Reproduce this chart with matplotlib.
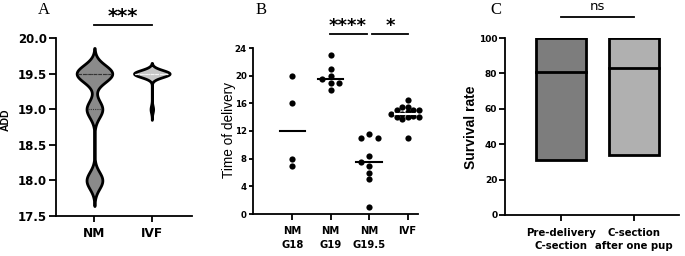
import numpy as np
import matplotlib
matplotlib.use('Agg')
import matplotlib.pyplot as plt

plt.rcParams['font.family'] = ['DejaVu Sans']

# A: ADD violins
add_groups = ['NM', 'IVF']
add_nm = [19.5] * 9 + [19.0] * 4 + [18.0] * 4
add_ivf = [19.5] * 14 + [19.0]
add_bw = [0.12, 0.05]
add_fill = ['#8a8a8a', '#c6c6c6']
add_line = ['#333333', '#f2f2f2']

# B: time of delivery
tod_groups = ['NM\nG18', 'NM\nG19', 'NM\nG19.5', 'IVF']
tod_g18 = [20, 16, 8, 7]
tod_g19 = [23, 21, 20, 19.5, 19, 19, 18]
tod_g195 = [11.5, 11, 11, 8.4, 7.5, 7, 6, 5, 1]
tod_ivf = [16.5, 15.5, 15.5, 15, 15, 15, 14.8, 14.5, 14.5, 14.2, 14, 14, 14,
           13.8, 11]

# C: survival rate (min / median / max)
surv_groups = ['Pre-delivery\nC-section', 'C-section\nafter one pup']
surv_min = [31, 34]
surv_med = [81, 83]
surv_max = [100, 100]
surv_fill = ['#7d7d7d', '#b0b0b0']

W, H = 685, 256
fig = plt.figure(figsize=(W / 100, H / 100), dpi=100)


def box(l, t, r, b):
    return [l / W, 1 - b / H, (r - l) / W, (b - t) / H]


def style(ax, ysize, xsize, ylen=4, xpad=4):
    for s in ['top', 'right']:
        ax.spines[s].set_visible(False)
    for s in ['left', 'bottom']:
        ax.spines[s].set_linewidth(1.3)
    ax.tick_params(direction='out', width=1.3)
    ax.tick_params(axis='y', length=ylen, labelsize=ysize, pad=1.5)
    ax.tick_params(axis='x', length=4, labelsize=xsize, pad=xpad)
    for lb in ax.get_yticklabels() + ax.get_xticklabels():
        lb.set_fontweight('bold')


def swarm(vals, ppx, ppy, d=6.5, step=8.5):
    order = np.argsort(vals)[::-1]
    placed = []
    out = np.zeros(len(vals))
    for i in order:
        y = vals[i] * ppy
        for k in [0, -1, 1, -2, 2, -3, 3]:
            x = k * step
            if all((x - px) ** 2 + (y - py) ** 2 >= d * d for px, py in placed):
                break
        placed.append((x, y))
        out[i] = x / ppx
    return out


# ---- panel A
ax = fig.add_axes(box(56, 38, 192, 216))
half = 0.31
for i, (data, bw) in enumerate(zip([add_nm, add_ivf], add_bw)):
    data = np.array(data)
    g = np.linspace(data.min() - 3 * bw, data.max() + 3 * bw, 400)
    dens = np.exp(-0.5 * ((g[:, None] - data[None, :]) / bw) ** 2).sum(1)
    w = dens / dens.max() * half
    ax.fill_betweenx(g, i - w, i + w, facecolor=add_fill[i], edgecolor='black', lw=2)
    q1, med, q3 = np.percentile(data, [25, 50, 75])
    for q, ls in [(med, (0, (3, 1.5))), (q1, (0, (1, 1))), (q3, (0, (1, 1)))]:
        wq = np.interp(q, g, w) - 0.02
        ax.plot([i - wq, i + wq], [q, q], color=add_line[i], lw=0.8, ls=ls)
ax.set_xlim(-0.67, 1.7)
ax.set_ylim(17.5, 20.0)
ax.set_yticks(np.arange(17.5, 20.01, 0.5))
ax.set_yticklabels(['%.1f' % v for v in np.arange(17.5, 20.01, 0.5)])
ax.set_xticks(range(len(add_groups)))
ax.set_xticklabels(add_groups)
style(ax, 8.5, 8.7, ylen=5, xpad=4)
ax.plot([0, 1], [20.18, 20.18], color='black', lw=1.3, clip_on=False)
ax.text(0.5, 20.23, '***', ha='center', va='baseline', fontsize=14, fontweight='bold')
fig.text(6 / W, 1 - 120 / H, 'ADD', rotation=90, ha='center', va='center',
         fontsize=7.5, fontweight='bold', family='Liberation Sans')
fig.text(44 / W, 1 - 10 / H, 'A', family='Liberation Serif', fontsize=12,
         ha='center', va='center')

# ---- panel B
ax = fig.add_axes(box(253, 48, 418, 214))
ax.set_xlim(-1.02, 3.27)
ax.set_ylim(0, 24)
ppx = 165 / 4.29
ppy = 166 / 24
for i, data in enumerate([tod_g18, tod_g19, tod_g195, tod_ivf]):
    data = np.array(data, dtype=float)
    if i == 3:
        off = swarm(data, ppx, ppy, d=4.2, step=5.5)
    else:
        off = swarm(data, ppx, ppy)
    ax.scatter(i + off, data, s=20, color='black', zorder=3, clip_on=False,
               linewidths=0)
    m = np.median(data)
    ax.plot([i - 0.33, i + 0.33], [m, m], color='white' if i == 3 else 'black',
            lw=1.5, zorder=4 if i == 3 else 2)
ax.set_yticks(range(0, 25, 4))
ax.set_xticks(range(len(tod_groups)))
ax.set_xticklabels(tod_groups, linespacing=1.45, va='top')
style(ax, 6.2, 7.2, ylen=3, xpad=5)
ax.plot([0.98, 1.95], [26.0, 26.0], color='black', lw=1.3, clip_on=False)
ax.plot([2.07, 3.0], [26.0, 26.0], color='black', lw=1.3, clip_on=False)
ax.text(1.45, 26.4, '****', ha='center', va='baseline', fontsize=13, fontweight='bold')
ax.text(2.56, 26.4, '*', ha='center', va='baseline', fontsize=13, fontweight='bold')
fig.text(229 / W, 1 - 130 / H, 'Time of delivery', rotation=90, ha='center',
         va='center', fontsize=9.8, family='Liberation Sans')
fig.text(261 / W, 1 - 10 / H, 'B', family='Liberation Serif', fontsize=12,
         ha='center', va='center')

# ---- panel C
ax = fig.add_axes(box(505, 38, 679, 215))
x = np.arange(len(surv_groups))
lo = np.array(surv_min)
hi = np.array(surv_max)
ax.bar(x, hi - lo, bottom=lo, width=0.68, color=surv_fill, edgecolor='black', lw=2)
for i, m in enumerate(surv_med):
    ax.plot([i - 0.34, i + 0.34], [m, m], color='black', lw=2)
ax.set_xlim(-0.76, 1.61)
ax.set_ylim(0, 100)
ax.set_yticks(range(0, 101, 20))
ax.set_xticks(x)
ax.set_xticklabels(surv_groups, linespacing=1.45)
style(ax, 6.5, 7.3, ylen=4, xpad=5)
ax.plot([0, 1], [111.9, 111.9], color='black', lw=1.3, clip_on=False)
ax.text(0.5, 114, 'ns', ha='center', va='bottom', fontsize=9.5)
fig.text(471 / W, 1 - 127 / H, 'Survival rate', rotation=90, ha='center',
         va='center', fontsize=10, fontweight='bold', family='Liberation Sans')
fig.text(496 / W, 1 - 10 / H, 'C', family='Liberation Serif', fontsize=12,
         ha='center', va='center')

fig.savefig('out.png', dpi=100)
